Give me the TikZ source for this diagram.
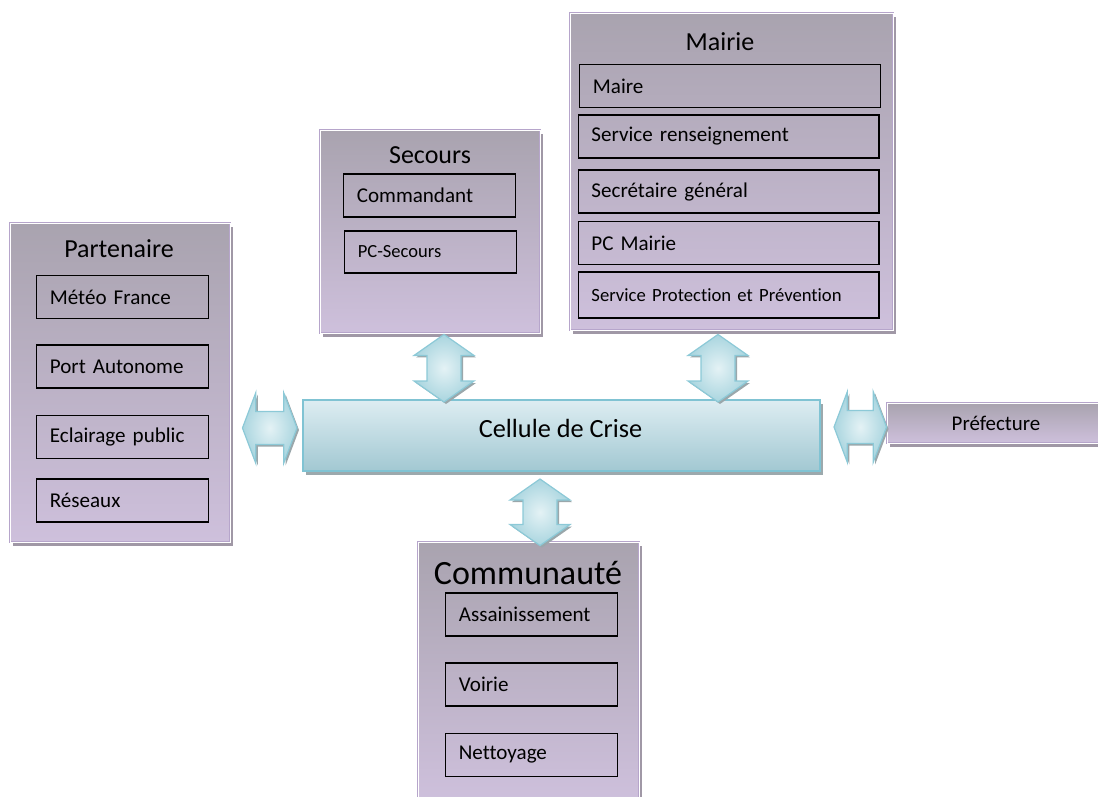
\documentclass[tikz,border=0pt]{standalone}
\usepackage{fontspec}
\setmainfont{Carlito}[Ligatures=NoCommon]
\usetikzlibrary{calc, shadows}
\definecolor{grouptop}{HTML}{A9A3AF}
\definecolor{groupbottom}{HTML}{CEC0DC}
\definecolor{groupedge}{HTML}{B6A5CB}
\definecolor{groupshadow}{HTML}{A098A6}
\definecolor{celltop}{HTML}{DDEDF2}
\definecolor{cellbottom}{HTML}{A2C8D2}
\definecolor{celledge}{HTML}{80C3D3}
\definecolor{cellshadow}{HTML}{9CA9AD}
\definecolor{linkfill}{HTML}{E4F2F5}
\definecolor{linkouter}{HTML}{A9D5DF}
\definecolor{linkedge}{HTML}{8CC9D7}
\definecolor{linkshadow}{HTML}{9AA7AB}

\tikzset{
  groupbox/.style={draw=groupedge, line width=0.7pt, double=white, double distance=0.6pt,
    top color=grouptop, bottom color=groupbottom, inner sep=0pt,
    drop shadow={shadow xshift=2.5pt, shadow yshift=-3pt, fill=groupshadow, opacity=1}},
  grouptitle/.style={font=\fontsize{19.5}{22}\selectfont},
  unitbox/.style={draw, line width=0.9pt, minimum height=32.25pt, inner xsep=10pt, inner ysep=0pt,
    text width=#1, align=left, font=\fontsize{15.8}{18}\selectfont},
  unitbox/.default=109pt,
  cellbox/.style={draw=celledge, line width=1.5pt, top color=celltop, bottom color=cellbottom,
    drop shadow={shadow xshift=2.5pt, shadow yshift=-3pt, fill=cellshadow, opacity=1}},
  linkarrow/.style={draw=linkedge, line width=0.9pt, inner color=linkfill, outer color=linkouter,
    preaction={fill=linkshadow, transform canvas={shift={(1.5pt,-1.5pt)}}}},
}

% double block arrows: #1 upper (left) end, #2 lower (right) end
\newcommand{\vlink}[2]{%
  \path[linkarrow] let \p1=(#1), \p2=(#2) in
    (\x1,\y1) -- ++(22.5pt,-15.75pt) -- ++(-9.75pt,0pt) -- (\x1+12.75pt,\y2+15.75pt) -- ++(9.75pt,0pt)
    -- (\x1,\y2) -- ++(-22.5pt,15.75pt) -- ++(9.75pt,0pt) -- (\x1-12.75pt,\y1-15.75pt) -- ++(-9.75pt,0pt) -- cycle;}
\newcommand{\hlink}[2]{%
  \path[linkarrow] let \p1=(#1), \p2=(#2) in
    (\x1,\y1) -- ++(10pt,26.5pt) -- ++(0pt,-14.1pt) -- (\x2-10pt,\y1+12.4pt) -- ++(0pt,14.1pt)
    -- (\x2,\y1) -- ++(-10pt,-26.5pt) -- ++(0pt,14.1pt) -- (\x1+10pt,\y1-12.4pt) -- ++(0pt,-14.1pt) -- cycle;}

\begin{document}
\begin{tikzpicture}[x=0.75pt, y=-0.75pt]
    \useasboundingbox (0,0) rectangle (1098,796);
    \clip (0,0) rectangle (1098,796);

    % Partenaire
    \node[groupbox, minimum width=165pt, minimum height=239.25pt] (partenaire) at (120,382.5) {};
    \node[grouptitle] (partenaireTitle) at (119,249) {Partenaire};
    \node[unitbox] (meteo) at (122.5,297) {Météo France};
    \node[unitbox] (port) at (122.5,366.5) {Port Autonome};
    \node[unitbox] (eclairage) at (122.5,437) {Eclairage public};
    \node[unitbox] (reseaux) at (122.5,500.5) {Réseaux};

    % Secours
    \node[groupbox, minimum width=165pt, minimum height=152.25pt] (secours) at (430,231.5) {};
    \node[grouptitle] (secoursTitle) at (430,155) {Secours};
    \node[unitbox] (commandant) at (429.5,195.5) {Commandant};
    \node[unitbox, minimum height=31.5pt, font=\fontsize{13.9}{16}\selectfont] (pcSecours) at (430.5,252) {PC-Secours};

    % Mairie
    \node[groupbox, minimum width=242.25pt, minimum height=237.75pt] (mairie) at (731.5,171.5) {};
    \node[grouptitle] (mairieTitle) at (720,42) {Mairie};
    \node[unitbox=205.6pt] (maire) at (730,86) {Maire};
    \node[unitbox=205.6pt] (renseignement) at (728.5,136.5) {Service renseignement};
    \node[unitbox=205.6pt] (secretaire) at (728.5,191.5) {Secrétaire général};
    \node[unitbox=205.6pt] (pcMairie) at (728.5,243) {PC Mairie};
    \node[unitbox=205.6pt, minimum height=34.5pt, font=\fontsize{14}{16}\selectfont] (protection) at (728.5,295) {Service Protection et Prévention};

    % Cellule de Crise
    \node[cellbox, minimum width=387.75pt, minimum height=53.25pt] (cellule) at (561.5,435.5) {};
    \node[font=\fontsize{19.7}{22}\selectfont] (celluleTitle) at (560.5,428) {Cellule de Crise};

    % Prefecture
    \node[groupbox, minimum width=163.5pt, minimum height=30pt, font=\fontsize{15.7}{18}\selectfont] (prefecture) at (996,423) {Préfecture};

    % Communaute
    \node[groupbox, minimum width=165.75pt, minimum height=193.5pt] (communaute) at (528.5,671) {};
    \node[font=\fontsize{25.5}{28}\selectfont] (communauteTitle) at (528,573) {Communauté};
    \node[unitbox] (assainissement) at (531.5,614.5) {Assainissement};
    \node[unitbox] (voirie) at (531.5,684.5) {Voirie};
    \node[unitbox] (nettoyage) at (531.5,755) {Nettoyage};

    % Links
    \vlink{$(secours.south)+(14,1)$}{$(cellule.north)+(0,3)$}
    \vlink{$(mairie.south)+(-13.5,4)$}{$(cellule.north)+(0,3)$}
    \vlink{$(cellule.south)+(-21.5,7)$}{$(communaute.north)+(0,4)$}
    \hlink{$(partenaire.east)+(12,45.5)$}{$(cellule.west)+(-5,0)$}
    \hlink{$(cellule.east)+(13,-8.5)$}{prefecture.west}
\end{tikzpicture}
\end{document}
